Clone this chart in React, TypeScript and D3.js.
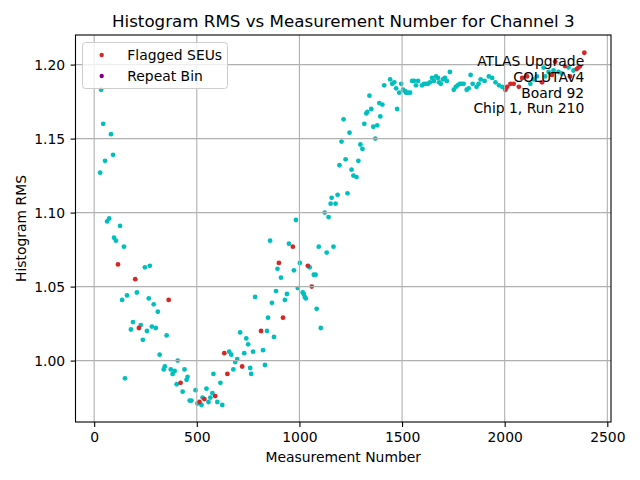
import * as d3 from 'd3';
import { useEffect, useRef } from 'react';

// regular measurements (cyan)
const measurementNumbers = [
    29, 34, 44, 53, 63, 73, 82, 92, 97, 106, 126, 136, 145, 150, 160, 179, 189, 208, 227, 237,
    247, 257, 266, 271, 281, 290, 300, 310, 319, 339, 344, 353, 373, 382, 392, 402, 407, 431, 440, 450,
    455, 465, 474, 494, 503, 523, 528, 547, 557, 566, 576, 581, 600, 615, 624, 658, 668, 678, 687, 697,
    711, 731, 741, 750, 760, 765, 774, 784, 823, 832, 842, 847, 857, 866, 876, 886, 893, 910, 929, 939,
    949, 973, 983, 992, 1002, 1016, 1021, 1026, 1031, 1050, 1070, 1079, 1084, 1094, 1104, 1123, 1133, 1142, 1152, 1157,
    1166, 1176, 1186, 1195, 1205, 1215, 1225, 1234, 1244, 1254, 1263, 1278, 1287, 1297, 1307, 1316, 1326, 1331, 1341, 1350,
    1360, 1370, 1379, 1389, 1394, 1404, 1413, 1442, 1452, 1462, 1471, 1476, 1486, 1496, 1505, 1515, 1520, 1529, 1539, 1549,
    1558, 1568, 1578, 1597, 1607, 1617, 1626, 1636, 1646, 1655, 1665, 1675, 1680, 1689, 1699, 1709, 1718, 1733, 1752, 1762,
    1771, 1781, 1791, 1800, 1815, 1825, 1834, 1844, 1863, 1873, 1883, 1902, 1923, 1939, 1955, 1972, 1988, 2125, 2141, 2157,
    2190, 2197, 2214, 2238, 2262, 2278, 2311, 2335,
];
const rmsValues = [
    1.127, 1.183, 1.16, 1.135, 1.094, 1.096, 1.153, 1.139, 1.083, 1.081, 1.091, 1.041, 1.077, 0.988, 1.044, 1.021, 1.026, 1.046, 1.024, 1.014,
    1.063, 1.02, 1.042, 1.064, 1.023, 1.038, 1.022, 1.033, 1.004, 0.994, 0.996, 1.017, 0.994, 0.991, 0.993, 0.984, 1.0, 0.979, 0.994, 0.987,
    0.989, 0.973, 0.973, 0.98, 0.971, 0.97, 0.975, 0.981, 0.972, 0.975, 0.978, 0.991, 0.972, 0.985, 0.97, 1.006, 1.004, 0.994, 0.999, 1.001,
    1.019, 1.005, 1.015, 1.011, 0.995, 0.991, 1.006, 1.043, 1.007, 0.997, 1.02, 1.029, 1.081, 1.039, 1.016, 1.047, 1.062, 1.056, 1.041, 1.045,
    1.079, 1.061, 1.095, 1.049, 1.066, 1.046, 1.045, 1.043, 1.042, 1.063, 1.058, 1.058, 1.035, 1.077, 1.022, 1.1, 1.073, 1.097, 1.106, 1.11,
    1.077, 1.106, 1.112, 1.132, 1.148, 1.163, 1.136, 1.113, 1.154, 1.129, 1.125, 1.124, 1.135, 1.146, 1.143, 1.16, 1.167, 1.168, 1.179, 1.17,
    1.158, 1.15, 1.159, 1.174, 1.165, 1.173, 1.186, 1.19, 1.187, 1.188, 1.184, 1.17, 1.181, 1.187, 1.183, 1.182, 1.181, 1.181, 1.181, 1.189,
    1.189, 1.186, 1.189, 1.186, 1.187, 1.187, 1.187, 1.188, 1.191, 1.189, 1.192, 1.191, 1.188, 1.187, 1.19, 1.191, 1.189, 1.195, 1.183, 1.185,
    1.186, 1.187, 1.187, 1.187, 1.183, 1.184, 1.193, 1.187, 1.185, 1.187, 1.19, 1.189, 1.192, 1.191, 1.188, 1.186, 1.185, 1.187, 1.19, 1.192,
    1.198, 1.192, 1.195, 1.196, 1.195, 1.194, 1.198, 1.196,
];

// flagged SEUs (red)
const seuNumbers = [
    116, 200, 218, 363, 421, 513, 537, 590, 634, 649, 721, 813, 900, 920, 968, 1041, 1060,
    2004, 2012, 2028, 2044, 2069, 2085, 2109, 2182, 2230, 2246, 2294, 2318, 2351, 2359, 2367, 2388,
];
const seuRms = [
    1.065, 1.055, 1.022, 1.041, 0.985, 0.972, 0.974, 0.976, 1.005, 0.991, 0.996, 1.02, 1.066, 1.029, 1.077, 1.064, 1.05,
    1.183, 1.185, 1.187, 1.187, 1.185, 1.191, 1.192, 1.188, 1.193, 1.202, 1.199, 1.192, 1.197, 1.198, 1.199, 1.208,
];

// repeat bins (purple) - none in this run
const repeatNumbers: number[] = [];
const repeatRms: number[] = [];

const xTicks = [0, 500, 1000, 1500, 2000, 2500];
const yTicks = [1.0, 1.05, 1.1, 1.15, 1.2];
const infoLines = ['ATLAS Upgrade', 'COLUTAv4', 'Board 92', 'Chip 1, Run 210'];

const CYAN = '#00bfbf';
const RED = '#d62728';
const PURPLE = '#800080';
const FONT = 'DejaVu Sans, sans-serif';

export default function App() {
    const chartRef = useRef<SVGSVGElement | null>(null);

    useEffect(() => {
        if (!chartRef.current) return;
        const svg = d3.select(chartRef.current);
        svg.selectAll('*').remove();

        const width = 640;
        const height = 480;
        const margin = { top: 35, right: 29, bottom: 58, left: 75.5 };
        const plotW = width - margin.left - margin.right;
        const plotH = height - margin.top - margin.bottom;

        const x = d3.scaleLinear().domain([-91, 2518]).range([margin.left, width - margin.right]);
        const y = d3.scaleLinear().domain([0.9585, 1.22]).range([height - margin.bottom, margin.top]);

        svg.append('rect').attr('width', width).attr('height', height).attr('fill', 'white');

        // points
        const drawPoints = (xs: number[], ys: number[], color: string) => {
            svg.append('g')
                .selectAll('circle')
                .data(xs.map((v, i) => [v, ys[i]]))
                .join('circle')
                .attr('cx', (d) => x(d[0]))
                .attr('cy', (d) => y(d[1]))
                .attr('r', 2.4)
                .attr('fill', color);
        };
        drawPoints(measurementNumbers, rmsValues, CYAN);
        drawPoints(seuNumbers, seuRms, RED);
        drawPoints(repeatNumbers, repeatRms, PURPLE);

        // grid sits above the markers, like matplotlib
        const grid = svg.append('g').attr('stroke', '#b0b0b0').attr('stroke-width', 1.1);
        xTicks.forEach((t) => {
            grid.append('line')
                .attr('x1', x(t)).attr('x2', x(t))
                .attr('y1', margin.top).attr('y2', height - margin.bottom);
        });
        yTicks.forEach((t) => {
            grid.append('line')
                .attr('x1', margin.left).attr('x2', width - margin.right)
                .attr('y1', y(t)).attr('y2', y(t));
        });

        // axes
        const xAxis = d3.axisBottom(x).tickValues(xTicks).tickFormat(d3.format('d')).tickSize(4.9).tickPadding(4.9);
        svg.append('g')
            .attr('transform', `translate(0,${height - margin.bottom})`)
            .call(xAxis)
            .call((g) => g.select('.domain').remove())
            .call((g) => g.selectAll('line').attr('stroke', 'black').attr('stroke-width', 1.1))
            .selectAll('text')
            .attr('fill', 'black')
            .style('font-family', FONT)
            .style('font-size', '13.9px');

        const yAxis = d3.axisLeft(y).tickValues(yTicks).tickFormat(d3.format('.2f')).tickSize(4.9).tickPadding(5.5);
        svg.append('g')
            .attr('transform', `translate(${margin.left},0)`)
            .call(yAxis)
            .call((g) => g.select('.domain').remove())
            .call((g) => g.selectAll('line').attr('stroke', 'black').attr('stroke-width', 1.1))
            .selectAll('text')
            .attr('fill', 'black')
            .style('font-family', FONT)
            .style('font-size', '13.9px');

        // frame
        svg.append('rect')
            .attr('x', margin.left).attr('y', margin.top)
            .attr('width', plotW).attr('height', plotH)
            .attr('fill', 'none').attr('stroke', 'black').attr('stroke-width', 1.1);

        // title and labels
        svg.append('text')
            .attr('x', margin.left + plotW / 2).attr('y', 27)
            .attr('text-anchor', 'middle')
            .style('font-family', FONT).style('font-size', '16.7px')
            .text('Histogram RMS vs Measurement Number for Channel 3');

        svg.append('text')
            .attr('x', margin.left + plotW / 2).attr('y', 462)
            .attr('text-anchor', 'middle')
            .style('font-family', FONT).style('font-size', '13.9px')
            .text('Measurement Number');

        svg.append('text')
            .attr('transform', `translate(26,${margin.top + plotH / 2}) rotate(-90)`)
            .attr('text-anchor', 'middle')
            .style('font-family', FONT).style('font-size', '13.9px')
            .text('Histogram RMS');

        // info text in the upper right
        const info = svg.append('g')
            .style('font-family', FONT).style('font-size', '13.9px')
            .attr('text-anchor', 'end');
        infoLines.forEach((line, i) => {
            info.append('text')
                .attr('x', margin.left + plotW * 0.95)
                .attr('y', 66 + i * 15.8)
                .text(line);
        });

        // legend
        const legend = svg.append('g');
        legend.append('rect')
            .attr('x', 82.5).attr('y', 42.5).attr('width', 145).attr('height', 46).attr('rx', 3)
            .attr('fill', 'white').attr('fill-opacity', 0.8)
            .attr('stroke', '#cccccc').attr('stroke-width', 1);
        [
            { label: 'Flagged SEUs', color: RED },
            { label: 'Repeat Bin', color: PURPLE },
        ].forEach((d, i) => {
            const cy = 55 + i * 21;
            legend.append('circle').attr('cx', 101.7).attr('cy', cy).attr('r', 2.2).attr('fill', d.color);
            legend.append('text')
                .attr('x', 127.3).attr('y', cy).attr('dy', '0.35em')
                .style('font-family', FONT).style('font-size', '13.9px')
                .text(d.label);
        });
    }, []);

    return <svg ref={chartRef} width={640} height={480} style={{ position: 'absolute', left: 0, top: 0 }} />;
}
